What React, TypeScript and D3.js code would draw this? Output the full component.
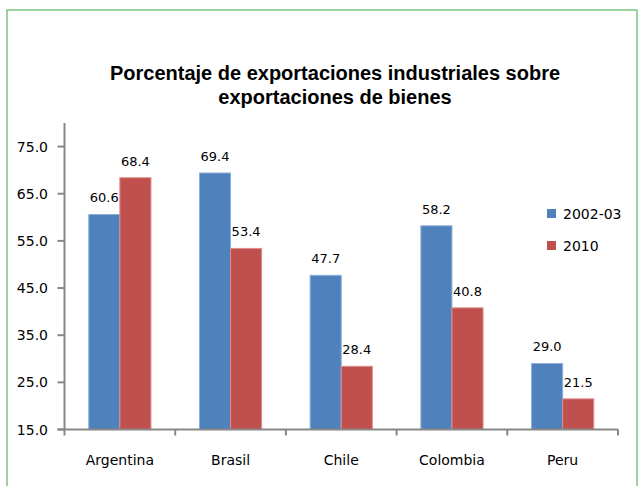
import React from "react";
import * as d3 from "d3";

const categories = ["Argentina", "Brasil", "Chile", "Colombia", "Peru"];
const seriesNames = ["2002-03", "2010"];
const values2002 = [60.6, 69.4, 47.7, 58.2, 29.0];
const values2010 = [68.4, 53.4, 28.4, 40.8, 21.5];
const yTicks = [15, 25, 35, 45, 55, 65, 75];
const titleLines = ["Porcentaje de exportaciones industriales sobre", "exportaciones de bienes"];

const colors = ["#4F81BD", "#C0504D"];
const strokes = ["#8EB0DA", "#DC8E8C"];

export default function App() {
  const W = 641, H = 486;
  const left = 64.5, right = 618, top = 123, bottom = 429.5;
  const x = d3.scaleBand().domain(categories).range([left, right]).paddingInner(0).paddingOuter(0);
  const y = d3.scaleLinear().domain([15, 80]).range([bottom, top]);
  const inner = d3.scaleBand().domain(seriesNames).range([0, x.bandwidth()]).paddingInner(0).paddingOuter(0.78);
  const series = [values2002, values2010];
  const font = "DejaVu Sans, Verdana, sans-serif";
  const bandEdges = categories.map((c) => x(c)!).concat([right]);

  return (
    <svg width={W} height={H} style={{ position: "absolute", left: 0, top: 0, background: "#fff" }}>
      <rect x={7} y={10} width={630} height={490} fill="#fff" stroke="#7CC47E" strokeWidth={1.5} />
      {titleLines.map((t, i) => (
        <text key={i} x={335} y={80 + i * 24} textAnchor="middle" fontFamily="Liberation Sans, Arial, sans-serif" fontWeight="bold" fontSize={20} fill="#000">
          {t}
        </text>
      ))}
      {series.map((vals, si) =>
        vals.map((v, ci) => {
          const bx = x(categories[ci])! + inner(seriesNames[si])!;
          const bw = inner.bandwidth();
          return (
            <g key={`${si}-${ci}`}>
              <rect x={bx} y={y(v)} width={bw} height={bottom - y(v)} fill={colors[si]} stroke={strokes[si]} strokeWidth={1} />
              <text x={bx + bw / 2} y={y(v) - 12} textAnchor="middle" fontFamily={font} fontSize={13} fill="#000">
                {v.toFixed(1)}
              </text>
            </g>
          );
        })
      )}
      {/* y axis */}
      <line x1={left} x2={left} y1={top} y2={bottom} stroke="#878787" strokeWidth={2} />
      {yTicks.map((t) => (
        <g key={t}>
          <line x1={left - 7} x2={left} y1={y(t)} y2={y(t)} stroke="#878787" strokeWidth={2} />
          <text x={48} y={y(t) + 5} textAnchor="end" fontFamily={font} fontSize={14} fill="#000">
            {t.toFixed(1)}
          </text>
        </g>
      ))}
      {/* x axis */}
      <line x1={left - 7} x2={right} y1={bottom} y2={bottom} stroke="#878787" strokeWidth={2} />
      {bandEdges.map((e, i) => (
        <line key={i} x1={e} x2={e} y1={bottom} y2={bottom + 6} stroke="#878787" strokeWidth={2} />
      ))}
      {categories.map((c) => (
        <text key={c} x={x(c)! + x.bandwidth() / 2} y={465} textAnchor="middle" fontFamily={font} fontSize={14} fill="#000">
          {c}
        </text>
      ))}
      {/* legend */}
      {seriesNames.map((s, i) => (
        <g key={s}>
          <rect x={547} y={209 + i * 32} width={9} height={9} fill={colors[i]} />
          <text x={563} y={219 + i * 32} fontFamily={font} fontSize={14} fill="#000">
            {s}
          </text>
        </g>
      ))}
    </svg>
  );
}
